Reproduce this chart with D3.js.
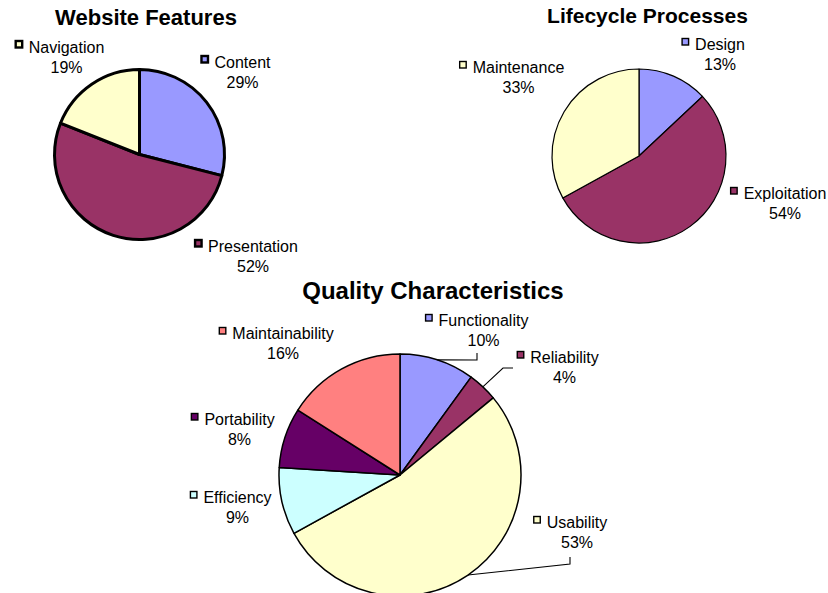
<!DOCTYPE html>
<html>
<head>
<meta charset="utf-8">
<script src="https://cdn.jsdelivr.net/npm/d3@7"></script>
<style>
  html, body { margin: 0; padding: 0; background: #ffffff; }
  svg { display: block; font-family: "Liberation Sans", Arial, sans-serif; }
</style>
</head>
<body>
<svg id="chart" width="828" height="593"></svg>
<script>
// ---- Data ----
const wfTitle = "Website Features";
const wfCategories = ["Content", "Presentation", "Navigation"];
const wfValues = [29, 52, 19];

const lpTitle = "Lifecycle Processes";
const lpCategories = ["Design", "Exploitation", "Maintenance"];
const lpValues = [13, 54, 33];

const qcTitle = "Quality Characteristics";
const qcCategories = ["Functionality", "Reliability", "Usability", "Efficiency", "Portability", "Maintainability"];
const qcValues = [10, 4, 53, 9, 8, 16];

// ---- Styles / layout ----
const wfColors = ["#9999FF", "#993366", "#FFFFCC"];
const lpColors = ["#9999FF", "#993366", "#FFFFCC"];
const qcColors = ["#9999FF", "#993366", "#FFFFCC", "#CCFFFF", "#660066", "#FF8080"];

const charts = [
  {
    title: wfTitle, categories: wfCategories, values: wfValues, colors: wfColors,
    cx: 139.5, cy: 154.5, r: 85, stroke: 3, titleX: 146, titleY: 25, titleSize: 22,
    squareStroke: 2.4,
    labels: [[103, -87], [113.5, 97], [-73, -102]],
    leaders: [null, null, null]
  },
  {
    title: lpTitle, categories: lpCategories, values: lpValues, colors: lpColors,
    cx: 639, cy: 156, r: 87, stroke: 1.2, titleX: 647.5, titleY: 23, titleSize: 21,
    squareStroke: 1.4,
    labels: [[81, -106], [146, 43], [-120.5, -83]],
    leaders: [null, null, null]
  },
  {
    title: qcTitle, categories: qcCategories, values: qcValues, colors: qcColors,
    cx: 400, cy: 475, r: 121, stroke: 1.5, titleX: 433, titleY: 299, titleSize: 24,
    squareStroke: 1.4,
    labels: [[83.5, -149], [164.5, -112], [177, 53], [-162.5, 28], [-160.5, -50], [-117, -136]],
    leaders: [[[77, -115], [77, -122]], [[103, -107], [113, -107]], [[170, 89], [170, 82]], null, null, null]
  }
];

const svg = d3.select("#chart");
svg.append("rect").attr("width", 828).attr("height", 593).attr("fill", "#ffffff");

const pie = d3.pie().sort(null).value(d => d);

charts.forEach(c => {
  const total = d3.sum(c.values);
  const arcs = pie(c.values);
  const arc = d3.arc().innerRadius(0).outerRadius(c.r);
  const g = svg.append("g").attr("transform", `translate(${c.cx},${c.cy})`);

  g.selectAll("path.slice")
    .data(arcs)
    .enter().append("path")
    .attr("class", "slice")
    .attr("d", arc)
    .attr("fill", (d, i) => c.colors[i])
    .attr("stroke", "#000")
    .attr("stroke-width", c.stroke)
    .attr("stroke-linejoin", "round");

  // leader lines
  arcs.forEach((d, i) => {
    const ld = c.leaders[i];
    if (!ld) return;
    const a = (d.startAngle + d.endAngle) / 2;
    const start = [Math.sin(a) * c.r, -Math.cos(a) * c.r];
    const pts = [start].concat(ld);
    g.append("path")
      .attr("d", d3.line()(pts))
      .attr("fill", "none")
      .attr("stroke", "#000")
      .attr("stroke-width", 1.1);
  });

  // labels
  arcs.forEach((d, i) => {
    const [lx, ly] = c.labels[i];
    const lg = g.append("g");
    const name = lg.append("text")
      .attr("x", lx).attr("y", ly)
      .attr("text-anchor", "middle")
      .attr("font-size", 16)
      .attr("fill", "#000")
      .text(c.categories[i]);
    lg.append("text")
      .attr("x", lx).attr("y", ly + 20)
      .attr("text-anchor", "middle")
      .attr("font-size", 16)
      .attr("fill", "#000")
      .text(Math.round(d.data / total * 100) + "%");
    const w = name.node().getComputedTextLength();
    const sx = lx - w / 2 - 13;
    lg.append("rect")
      .attr("x", sx).attr("y", ly - 11.5)
      .attr("width", 6.5).attr("height", 6.5)
      .attr("fill", c.colors[i])
      .attr("stroke", "#000")
      .attr("stroke-width", c.squareStroke);
  });

  svg.append("text")
    .attr("x", c.titleX).attr("y", c.titleY)
    .attr("text-anchor", "middle")
    .attr("font-size", c.titleSize)
    .attr("font-weight", "bold")
    .attr("fill", "#000")
    .text(c.title);
});
</script>
</body>
</html>
